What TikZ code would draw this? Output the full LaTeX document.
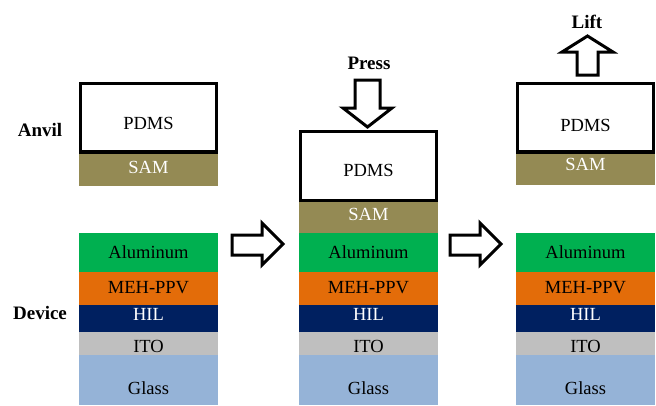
\documentclass[tikz,border=0pt]{standalone}
\usepackage{fontspec}
\setmainfont{Liberation Serif}
\definecolor{samc}{HTML}{948A54}
\definecolor{alc}{HTML}{00B050}
\definecolor{mehc}{HTML}{E36C09}
\definecolor{hilc}{HTML}{002060}
\definecolor{itoc}{HTML}{BFBFBF}
\definecolor{glassc}{HTML}{95B3D7}
\tikzset{
  lbl/.style={font=\fontsize{18.5}{20}\selectfont, inner sep=0pt},
  wlbl/.style={lbl, text=white},
  head/.style={font=\bfseries\fontsize{19}{21}\selectfont, inner sep=0pt},
  pdmsbox/.style={draw=black, line width=3.5pt, fill=white},
  blockarrow/.style={draw=black, line width=3pt, fill=white, line join=miter},
}
% device layer stack with its left edge at x = #1
\newcommand\devstack[1]{%
  \begin{scope}[xshift=#1pt]
    \fill[alc]    (0,233) rectangle (139,272);
    \fill[mehc]   (0,272) rectangle (139,305);
    \fill[hilc]   (0,305) rectangle (139,332);
    \fill[itoc]   (0,332) rectangle (139,355);
    \fill[glassc] (0,355) rectangle (139,405);
    \node[lbl]  at (69.5,252) {Aluminum};
    \node[lbl]  at (69.5,288) {MEH-PPV};
    \node[wlbl] at (69.5,314) {HIL};
    \node[lbl]  at (69.5,346) {ITO};
    \node[lbl]  at (69.5,388) {Glass};
  \end{scope}}
\begin{document}
\begin{tikzpicture}[x=1pt, y=-1pt]
  \useasboundingbox (0,0) rectangle (656,405);

  % side labels
  \node[head] (anvil)  at (40,130) {Anvil};
  \node[head] (device) at (40,313) {Device};

  % column 1: separated anvil and device
  \fill[samc] (79,153) rectangle (218,186);
  \node[wlbl] (sam1) at (148.5,167) {SAM};
  \draw[pdmsbox] (80.5,83.5) rectangle (216.5,152);
  \node[lbl] (pdms1) at (148.5,123) {PDMS};
  \devstack{79}

  % step arrow 1
  \draw[blockarrow] (232,235) -- (262,235) -- (262,223) -- (283,244)
    -- (262,265) -- (262,255) -- (232,255) -- cycle;

  % column 2: anvil pressed on device
  \devstack{299}
  \fill[samc] (299,201) rectangle (438,233);
  \node[wlbl] (sam2) at (368.5,214) {SAM};
  \draw[pdmsbox] (300.5,131.5) rectangle (436.5,200.5);
  \node[lbl] (pdms2) at (368.5,170) {PDMS};
  \draw[blockarrow] (355,80) -- (380,80) -- (380,108) -- (392,108)
    -- (367.5,127) -- (343,108) -- (355,108) -- cycle;
  \node[head] (press) at (369,63) {Press};

  % step arrow 2
  \draw[blockarrow] (450,235) -- (480,235) -- (480,223) -- (501,244)
    -- (480,265) -- (480,255) -- (450,255) -- cycle;

  % column 3: anvil lifted
  \fill[samc] (516,153) rectangle (655,185);
  \node[wlbl] (sam3) at (585.5,164) {SAM};
  \draw[pdmsbox] (517.5,83.5) rectangle (653.5,152);
  \node[lbl] (pdms3) at (585.5,125) {PDMS};
  \devstack{516}
  \draw[blockarrow] (577,75) -- (598,75) -- (598,52) -- (613,52)
    -- (587.5,36) -- (562,52) -- (577,52) -- cycle;
  \node[head] (lift) at (587,22) {Lift};
\end{tikzpicture}
\end{document}
